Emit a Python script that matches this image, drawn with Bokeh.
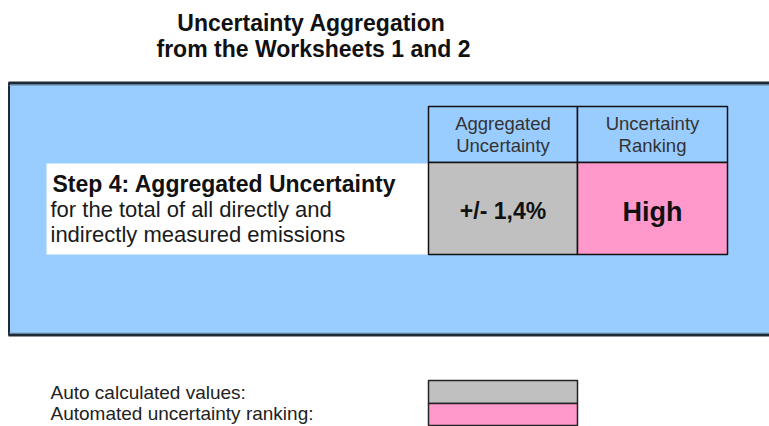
from bokeh.plotting import figure
from bokeh.models import Range1d
from bokeh.core.properties import value
from bokeh.embed import file_html
from bokeh.resources import INLINE

# ---------------- data ----------------
title_lines = ["Uncertainty Aggregation", "from the Worksheets 1 and 2"]
step_title = "Step 4: Aggregated Uncertainty"
step_desc = ["for the total of all directly and", "indirectly measured emissions"]
header_line1 = ["Aggregated", "Uncertainty"]
header_line2 = ["Uncertainty", "Ranking"]
aggregated_uncertainty_pct = 1.4
uncertainty_ranking = "High"
legend_labels = ["Auto calculated values:", "Automated uncertainty ranking:"]

# ---------------- styles / layout (page pixel coordinates) ----------------
FONT = value("Liberation Sans")
BLUE = "#99CCFF"
GREY = "#C0C0C0"
PINK = "#FF99CC"
BORDER = "#1f2a36"

col_edges = [428, 577, 727]
row_edges = [106, 162, 254]
legend_rows = [380, 403, 425]

p = figure(width=769, height=426, x_range=Range1d(0, 769), y_range=Range1d(426, 0),
           output_backend="svg", toolbar_location=None, min_border=0)
p.axis.visible = False
p.grid.visible = False
p.outline_line_color = None
p.background_fill_color = "white"
p.border_fill_color = "white"

# title
p.text(x=[311, 313], y=[22, 48], text=title_lines, text_font=FONT, text_font_size="23px",
       text_font_style="bold", text_align="center", text_baseline="alphabetic", text_color="#111111")

# blue panel
p.quad(left=[8], right=[775], top=[82], bottom=[335], fill_color=BLUE, line_color=None)
p.segment(x0=[8, 8], y0=[82.5, 334.5], x1=[775, 775], y1=[82.5, 334.5], line_color=BORDER, line_width=3)
p.segment(x0=[8.5], y0=[82], x1=[8.5], y1=[335], line_color=BORDER, line_width=2)
p.segment(x0=[8, 8], y0=[85, 332.5], x1=[775, 775], y1=[85, 332.5], line_color="#6f8aa6", line_width=1, line_alpha=0.6)

# white box for step text
p.quad(left=[46], right=[428], top=[163], bottom=[254], fill_color="white", line_color=None)

# table
p.quad(left=col_edges[:2], right=col_edges[1:], top=[row_edges[0]] * 2, bottom=[row_edges[1]] * 2,
       fill_color=BLUE, line_color="#111111", line_width=1.5)
p.quad(left=col_edges[:2], right=col_edges[1:], top=[row_edges[1]] * 2, bottom=[row_edges[2]] * 2,
       fill_color=[GREY, PINK], line_color="#111111", line_width=1.5)

centers = [(col_edges[i] + col_edges[i + 1]) / 2 for i in range(2)]
p.text(x=centers, y=[123, 123], text=header_line1, text_font=FONT, text_font_size="18.5px",
       text_align="center", text_baseline="alphabetic", text_color="#333333")
p.text(x=centers, y=[145, 145], text=header_line2, text_font=FONT, text_font_size="18.5px",
       text_align="center", text_baseline="alphabetic", text_color="#333333")

value_text = ("+/- %.1f%%" % aggregated_uncertainty_pct).replace(".", ",")
p.text(x=[centers[0]], y=[210], text=[value_text], text_font=FONT, text_font_size="23px",
       text_font_style="bold", text_align="center", text_baseline="alphabetic", text_color="#111111")
p.text(x=[centers[1]], y=[211], text=[uncertainty_ranking], text_font=FONT, text_font_size="27px",
       text_font_style="bold", text_align="center", text_baseline="alphabetic", text_color="#111111")

# step text
p.text(x=[52], y=[183], text=[step_title], text_font=FONT, text_font_size="23px",
       text_font_style="bold", text_align="left", text_baseline="alphabetic", text_color="#111111")
p.text(x=[50, 50], y=[209, 234], text=step_desc, text_font=FONT, text_font_size="22px",
       text_align="left", text_baseline="alphabetic", text_color="#1a1a1a")

# legend
p.text(x=[50, 50], y=[392, 413], text=legend_labels, text_font=FONT, text_font_size="19px",
       text_align="left", text_baseline="alphabetic", text_color="#222222")
p.quad(left=[col_edges[0]] * 2, right=[col_edges[1]] * 2, top=legend_rows[:2], bottom=legend_rows[1:],
       fill_color=[GREY, PINK], line_color="#222222", line_width=1.5)

open("out.html", "w").write(file_html(p, INLINE))
